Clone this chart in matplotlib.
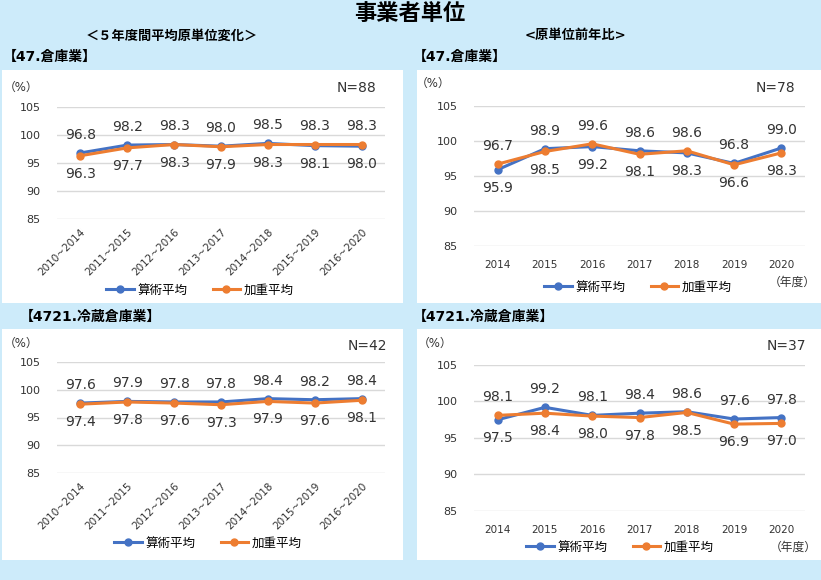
import matplotlib as mpl
import matplotlib.pyplot as plt
from matplotlib.patches import Rectangle

mpl.use("agg", force=True)
plt.rcParams['font.family'] = ['DejaVu Sans', 'Noto Sans CJK JP']

# data
periods = ['2010~2014', '2011~2015', '2012~2016', '2013~2017',
           '2014~2018', '2015~2019', '2016~2020']
years = ['2014', '2015', '2016', '2017', '2018', '2019', '2020']

wh5_arith = [96.8, 98.2, 98.3, 98.0, 98.5, 98.1, 98.0]
wh5_weight = [96.3, 97.7, 98.3, 97.9, 98.3, 98.3, 98.3]

wh_yoy_arith = [95.9, 98.9, 99.2, 98.6, 98.3, 96.8, 99.0]
wh_yoy_weight = [96.7, 98.5, 99.6, 98.1, 98.6, 96.6, 98.3]

cold5_arith = [97.6, 97.9, 97.8, 97.8, 98.4, 98.2, 98.4]
cold5_weight = [97.4, 97.8, 97.6, 97.3, 97.9, 97.6, 98.1]

cold_yoy_arith = [97.5, 99.2, 98.1, 98.4, 98.6, 97.6, 97.8]
cold_yoy_weight = [98.1, 98.4, 98.0, 97.8, 98.5, 96.9, 97.0]

n_counts = ['N=88', 'N=78', 'N=42', 'N=37']

BLUE = '#4472C4'
ORANGE = '#ED7D31'
BG = '#CDEBFA'
TXT = '#333333'

W, H = 821, 580
fig = plt.figure(figsize=(W / 100, H / 100), dpi=100, facecolor=BG)


def fx(x):
    return x / W


def fy(y):
    return 1 - y / H


def panel(x0, y0, x1, y1):
    fig.add_artist(Rectangle((fx(x0), fy(y1)), fx(x1 - x0), (y1 - y0) / H,
                             transform=fig.transFigure, facecolor='white',
                             edgecolor='none', zorder=0))


def chart(rect, cats, arith, weight, rotate, leg_xy):
    x0, y0, x1, y1 = rect
    ax = fig.add_axes([fx(x0), fy(y1), fx(x1 - x0), (y1 - y0) / H])
    ax.set_facecolor('none')
    xs = list(range(len(cats)))
    ax.plot(xs, arith, color=BLUE, lw=2.2, marker='o', ms=5, label='算術平均', zorder=3)
    ax.plot(xs, weight, color=ORANGE, lw=2.2, marker='o', ms=5, label='加重平均', zorder=4)
    for i in xs:
        b_up = arith[i] >= weight[i]
        ax.annotate(f'{arith[i]:.1f}', (i, arith[i]), xytext=(0, 13 if b_up else -13),
                    textcoords='offset points', ha='center', va='center',
                    fontsize=10, color=TXT)
        ax.annotate(f'{weight[i]:.1f}', (i, weight[i]), xytext=(0, -13 if b_up else 13),
                    textcoords='offset points', ha='center', va='center',
                    fontsize=10, color=TXT)
    ax.set_xlim(-0.5, len(cats) - 0.5)
    ax.set_ylim(85, 105)
    ax.set_yticks([85, 90, 95, 100, 105])
    ax.set_xticks(xs)
    if rotate:
        ax.set_xticklabels(cats, rotation=45, ha='right', rotation_mode='anchor',
                           fontsize=7.5, color=TXT)
    else:
        ax.set_xticklabels(cats, fontsize=7.5, color=TXT)
    ax.tick_params(axis='y', labelsize=8, colors=TXT, length=0, pad=12)
    ax.tick_params(axis='x', length=0, pad=10 if not rotate else 6)
    ax.grid(axis='y', color='#D9D9D9', lw=1)
    ax.set_axisbelow(True)
    for s in ax.spines.values():
        s.set_visible(False)
    fig.legend(*ax.get_legend_handles_labels(), loc='center',
               bbox_to_anchor=(fx(leg_xy[0]), fy(leg_xy[1])), ncol=2,
               frameon=False, fontsize=9, handlelength=2.2, columnspacing=2.0,
               handletextpad=0.3)
    return ax


# white panels
panel(2, 70, 403, 303)
panel(417, 70, 821, 303)
panel(2, 329, 403, 560)
panel(417, 329, 821, 560)

# headings
fig.text(fx(410), fy(14), '事業者単位', ha='center', va='center',
         fontsize=16, fontweight='bold')
fig.text(fx(172), fy(36), '＜５年度間平均原単位変化＞', ha='center', va='center',
         fontsize=9.5, fontweight='bold')
fig.text(fx(575), fy(36), '<原単位前年比>', ha='center', va='center',
         fontsize=9.5, fontweight='bold')
fig.text(fx(3), fy(57), '【47.倉庫業】', ha='left', va='center',
         fontsize=10, fontweight='bold')
fig.text(fx(413), fy(57), '【47.倉庫業】', ha='left', va='center',
         fontsize=10, fontweight='bold')
fig.text(fx(20), fy(317), '【4721.冷蔵倉庫業】', ha='left', va='center',
         fontsize=10, fontweight='bold')
fig.text(fx(413), fy(317), '【4721.冷蔵倉庫業】', ha='left', va='center',
         fontsize=10, fontweight='bold')

# charts
chart((57, 107, 385, 219), periods, wh5_arith, wh5_weight, True, (200, 290))
chart((474, 106, 805, 246), years, wh_yoy_arith, wh_yoy_weight, False, (638, 287))
chart((57, 362, 385, 473), periods, cold5_arith, cold5_weight, True, (208, 543))
chart((474, 365, 805, 511), years, cold_yoy_arith, cold_yoy_weight, False, (620, 547))

# unit / N labels
for x, y in [(21, 87), (433, 83), (21, 343), (435, 343)]:
    fig.text(fx(x), fy(y), '（%）', ha='center', va='center', fontsize=8.5, color=TXT)
for (x, y), n in zip([(356, 88), (775, 88), (367, 346), (786, 346)], n_counts):
    fig.text(fx(x), fy(y), n, ha='center', va='center', fontsize=10, color=TXT)
fig.text(fx(816), fy(282), '（年度）', ha='right', va='center', fontsize=8.5, color=TXT)
fig.text(fx(817), fy(547), '（年度）', ha='right', va='center', fontsize=8.5, color=TXT)

fig.savefig('out.png', dpi=100, facecolor=BG)
plt.close()
